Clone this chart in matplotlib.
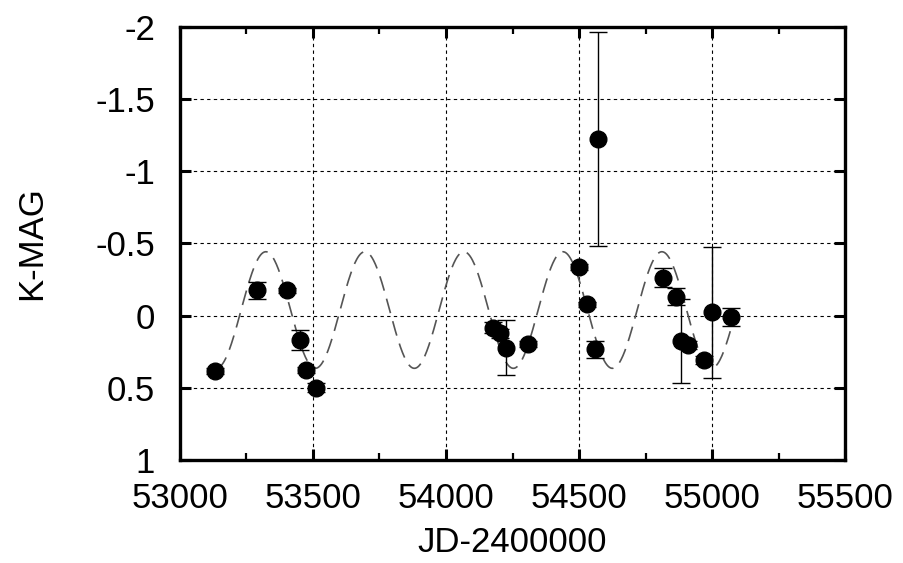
import numpy as np
import matplotlib
matplotlib.use("Agg")
import matplotlib.pyplot as plt
from matplotlib.ticker import MultipleLocator

plt.rcParams['font.family'] = ['Liberation Sans', 'DejaVu Sans']

# Observations (JD-2400000, K magnitude, error)
jd = [53131, 53291, 53404, 53451, 53474, 53510, 54178, 54203, 54226, 54307,
      54501, 54531, 54560, 54570, 54817, 54865, 54882, 54911, 54970, 54999, 55071]
kmag = [0.383, -0.175, -0.175, 0.168, 0.376, 0.498, 0.083, 0.122, 0.222, 0.199,
        -0.339, -0.078, 0.233, -1.223, -0.263, -0.132, 0.175, 0.203, 0.307, -0.023, 0.007]
kerr = [0.02, 0.058, 0.02, 0.069, 0.02, 0.03, 0.04, 0.03, 0.19, 0.02,
        0.02, 0.02, 0.058, 0.742, 0.067, 0.06, 0.29, 0.03, 0.03, 0.455, 0.062]

# Fitted sinusoidal model shown as dashed line (parameters)
model_period = 372.0
model_epoch_max = 53323.0   # epoch of brightest point
model_mean = -0.039
model_amp = 0.404
model_start = 53138
model_end = 55068

xticks = [53000, 53500, 54000, 54500, 55000, 55500]
yticks = [-2, -1.5, -1, -0.5, 0, 0.5, 1]
yticklabels = ['-2', '-1.5', '-1', '-0.5', '0', '0.5', '1']

fig = plt.figure(figsize=(9.04, 5.63), dpi=100)
ax = fig.add_axes([0.199, 0.183, 0.736, 0.769])

t = np.linspace(model_start, model_end, 800)
m = model_mean - model_amp * np.cos(2 * np.pi * (t - model_epoch_max) / model_period)
ax.plot(t, m, color='#555555', lw=1.2, ls=(0, (9, 5)), zorder=2)

ax.errorbar(jd, kmag, yerr=kerr, fmt='o', color='black', ms=12,
            ecolor='black', elinewidth=1.0, capsize=6.5, capthick=1.0, zorder=3)

ax.set_xlim(53000, 55500)
ax.set_ylim(1, -2)
ax.set_xticks(xticks)
ax.set_yticks(yticks)
ax.set_yticklabels(yticklabels)
ax.xaxis.set_minor_locator(MultipleLocator(250))

ax.grid(True, which='major', color='black', ls=(0, (3, 3)), lw=0.8)

ax.tick_params(which='major', direction='in', length=8, width=2.2,
               top=True, right=True, labelsize=25)
ax.tick_params(axis='x', which='major', pad=16)
ax.tick_params(axis='y', which='major', pad=18)
ax.tick_params(which='minor', direction='in', length=5, width=1.6,
               top=True, right=True)
ax.tick_params(axis='y', which='minor', left=False, right=False)
for s in ax.spines.values():
    s.set_linewidth(2.4)

ax.set_xlabel('JD-2400000', fontsize=25, labelpad=8)
ax.set_ylabel('K-MAG', fontsize=25, labelpad=34)

fig.savefig('out.png', dpi=100)
